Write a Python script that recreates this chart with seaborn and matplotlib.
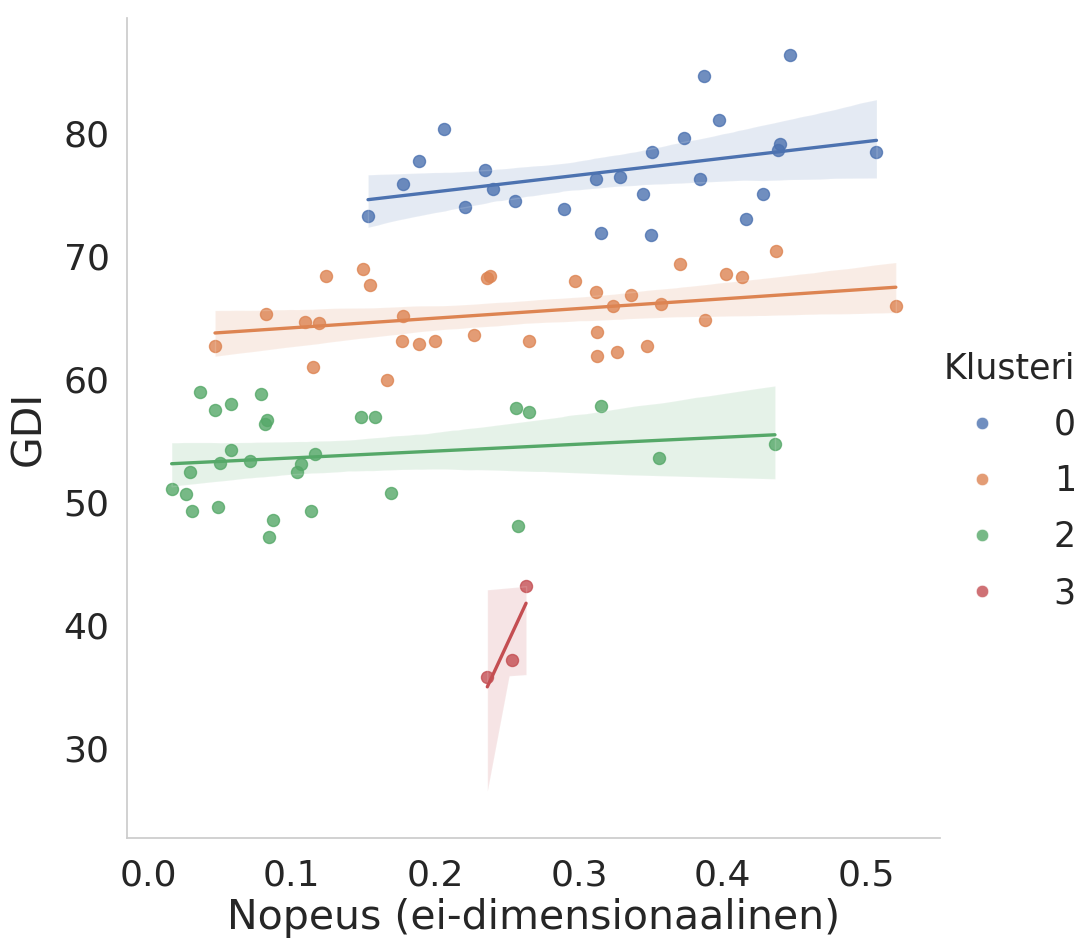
import pandas as pd
import matplotlib
matplotlib.use("Agg")
import matplotlib.pyplot as plt
from matplotlib.lines import Line2D
import seaborn as sns

# cluster 0
nopeus_0 = [0.2063, 0.1889, 0.1777, 0.1531, 0.2344, 0.2404, 0.2209, 0.2553, 0.4472,
            0.3870, 0.3977, 0.3735, 0.3512, 0.4400, 0.4386, 0.5073, 0.3118, 0.3289,
            0.3842, 0.2897, 0.3449, 0.4286, 0.4163, 0.3157, 0.3501]
gdi_0 = [80.30, 77.72, 75.88, 73.26, 77.02, 75.42, 74.01, 74.45, 86.34,
         84.61, 81.03, 79.59, 78.43, 79.11, 78.62, 78.43, 76.29, 76.45,
         76.29, 73.85, 75.02, 75.02, 72.99, 71.85, 71.69]

# cluster 1
nopeus_1 = [0.1238, 0.1496, 0.1545, 0.2358, 0.2381, 0.0820, 0.1090, 0.1187, 0.1777,
            0.0465, 0.1768, 0.1889, 0.2000, 0.2270, 0.2651, 0.4372, 0.3707, 0.4028,
            0.4139, 0.2971, 0.3118, 0.3364, 0.3240, 0.3573, 0.5208, 0.3881, 0.3129,
            0.3129, 0.3264, 0.3475, 0.1150, 0.1666]
gdi_1 = [68.40, 68.97, 67.67, 68.24, 68.40, 65.27, 64.67, 64.54, 65.15,
         62.69, 63.10, 62.83, 63.10, 63.56, 63.10, 70.41, 69.38, 68.54,
         68.27, 67.97, 67.10, 66.84, 65.97, 66.10, 65.97, 64.83, 63.80,
         61.90, 62.23, 62.67, 60.96, 59.93]

# cluster 2
nopeus_2 = [0.0362, 0.0783, 0.0463, 0.0574, 0.0829, 0.0815, 0.1482, 0.1582, 0.2562,
            0.2651, 0.0574, 0.0500, 0.0709, 0.1164, 0.1066, 0.1038, 0.0289, 0.0163,
            0.0263, 0.0302, 0.0486, 0.1136, 0.1691, 0.0869, 0.0843, 0.2574, 0.3155,
            0.3559, 0.4366]
gdi_2 = [58.93, 58.79, 57.49, 57.95, 56.68, 56.33, 56.92, 56.92, 57.63,
         57.35, 54.22, 53.21, 53.37, 53.94, 53.08, 52.48, 52.48, 51.05,
         50.64, 49.31, 49.63, 49.31, 50.77, 48.58, 47.17, 48.04, 57.80,
         53.56, 54.69]

# cluster 3
nopeus_3 = [0.2632, 0.2535, 0.2362]
gdi_3 = [43.16, 37.18, 35.76]

clusters = [0, 1, 2, 3]

frames = []
for k, xs, ys in zip(clusters, [nopeus_0, nopeus_1, nopeus_2, nopeus_3],
                     [gdi_0, gdi_1, gdi_2, gdi_3]):
    frames.append(pd.DataFrame({"Nopeus": xs, "GDI": ys, "Klusteri": k}))
df = pd.concat(frames, ignore_index=True)

sns.set_theme(style="whitegrid", palette="deep")
plt.rcParams["axes.grid"] = False

g = sns.lmplot(data=df, x="Nopeus", y="GDI", hue="Klusteri", height=8, aspect=1.0,
               scatter_kws={"s": 75}, line_kws={"lw": 2.4}, seed=0, legend=False)

fig = g.figure
fig.set_size_inches(10.81, 9.38)
fig.subplots_adjust(left=0.1175, right=0.8696, bottom=0.1066, top=0.981)

ax = g.ax
ax.set_xlim(-0.0148, 0.5516)
ax.set_ylim(22.7, 89.35)
ax.set_xticks([0.0, 0.1, 0.2, 0.3, 0.4, 0.5])
ax.set_yticks([30, 40, 50, 60, 70, 80])
ax.tick_params(axis="x", labelsize=26, colors=".15", pad=8.5)
ax.tick_params(axis="y", labelsize=26, colors=".15", pad=6.5)
ax.set_xlabel("Nopeus (ei-dimensionaalinen)", fontsize=29.5, color=".15", labelpad=4.5)
ax.set_ylabel("GDI", fontsize=29.5, color=".15", labelpad=10)

pal = sns.color_palette("deep", len(clusters))
handles = [Line2D([], [], marker="o", linestyle="none", markersize=9,
                  markerfacecolor=c, markeredgecolor="white", markeredgewidth=0.6,
                  alpha=0.8)
           for c in pal]
fig.legend(handles, [str(k) for k in clusters], title="Klusteri",
           loc="center left", bbox_to_anchor=(0.843, 0.487), frameon=False,
           fontsize=25, title_fontsize=25, labelspacing=0.64,
           handlelength=2.25, handletextpad=0.95)

fig.savefig("out.png", dpi=100)
